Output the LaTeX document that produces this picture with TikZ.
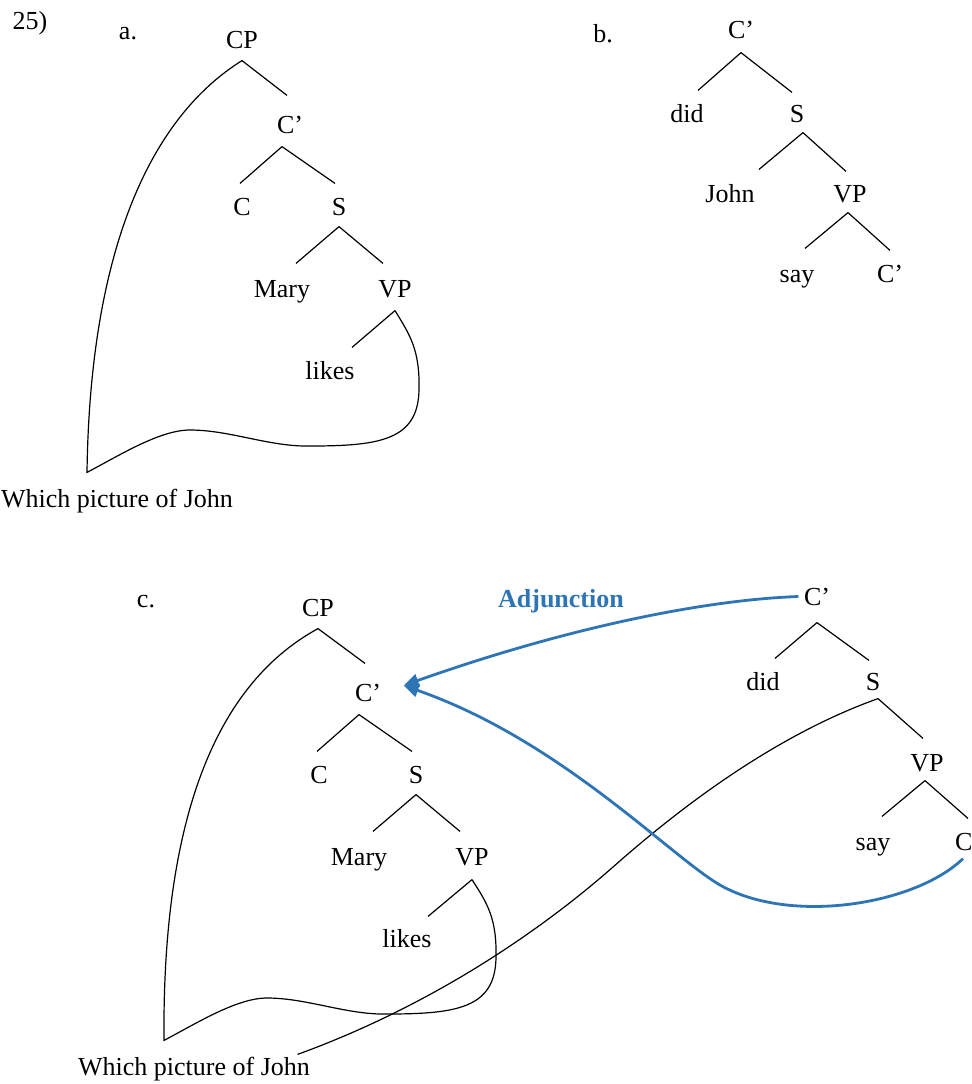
\documentclass[tikz,border=0pt]{standalone}
\usepackage{fontspec}
\setmainfont{Liberation Serif}
\usepackage{tikz}
\usetikzlibrary{arrows.meta}
\definecolor{adjblue}{RGB}{46,117,182}

\begin{document}
\begin{tikzpicture}[x=0.5pt,y=-0.5pt,line width=0.6pt,
  font=\fontsize{13}{15}\selectfont,
  lbl/.style={inner sep=0pt,text height=8.5pt,text depth=0pt,anchor=base},
  adjoin/.style={adjblue,line width=1.4pt,-{Triangle[length=7.5pt,width=6.5pt]}}]
\useasboundingbox (0,0) rectangle (972,1084);

% a. the wh-phrase leaves the VP
\node[lbl] (num) at (30,29) {25)};
\node[lbl] (taga) at (128,39) {a.};
\node[lbl] (CPa) at (242,48) {CP};
\node[lbl] (Cbara) at (290,133) {C’};
\node[lbl] (Ca) at (242,215) {C};
\node[lbl] (Sa) at (339,215) {S};
\node[lbl] (Marya) at (282,297) {Mary};
\node[lbl] (VPa) at (395,297) {VP};
\node[lbl] (likesa) at (330,379) {likes};
\node[lbl] (whicha) at (117,507) {Which picture of John};

\draw ([yshift=-6pt]CPa.south) -- ([xshift=-1.5pt,yshift=10pt]Cbara.north);
\draw ([xshift=-4pt,yshift=-6.5pt]Cbara.south) -- ([xshift=-1pt,yshift=7pt]Ca.north)
      ([xshift=-4pt,yshift=-6.5pt]Cbara.south) -- ([xshift=-2pt,yshift=7pt]Sa.north);
\draw ([yshift=-5.5pt]Sa.south) -- ([xshift=7pt,yshift=8pt]Marya.north)
      ([yshift=-5.5pt]Sa.south) -- ([xshift=-6pt,yshift=8pt]VPa.north);
\draw ([yshift=-6.5pt]VPa.south) -- ([xshift=11pt,yshift=7pt]likesa.north);

\coordinate (foota) at ([xshift=-15pt,yshift=8.5pt]whicha.north);
\draw ([yshift=-6pt]CPa.south) .. controls (150,118) and (90,250) .. (foota)
  .. controls (120,455) and (160,430) .. (190,430)
  .. controls (230,430) and (270,447) .. (310,446)
  .. controls (380,446) and (418,440) .. (419,390)
  .. controls (420,350) and (410,335) .. ([yshift=-6.5pt]VPa.south);

% b. the higher clause
\node[lbl] (tagb) at (603,42) {b.};
\node[lbl] (Cbarb) at (741,38) {C’};
\node[lbl] (didb) at (687,122) {did};
\node[lbl] (Sb) at (797,122) {S};
\node[lbl] (Johnb) at (730,202) {John};
\node[lbl] (VPb) at (850,202) {VP};
\node[lbl] (sayb) at (797,282) {say};
\node[lbl] (Cbarbb) at (890,282) {C’};

\draw ([yshift=-7pt]Cbarb.south) -- ([xshift=5.5pt,yshift=7pt]didb.north)
      ([yshift=-7pt]Cbarb.south) -- ([xshift=-2.5pt,yshift=6pt]Sb.north);
\draw ([xshift=3pt,yshift=-5pt]Sb.south) -- ([xshift=14.5pt,yshift=7.5pt]Johnb.north)
      ([xshift=3pt,yshift=-5pt]Sb.south) -- ([xshift=-2pt,yshift=6.5pt]VPb.north);
\draw ([xshift=-1pt,yshift=-5pt]VPb.south) -- ([xshift=4pt,yshift=8pt]sayb.north)
      ([xshift=-1pt,yshift=-5pt]VPb.south) -- ([yshift=7pt]Cbarbb.north);

% c. the lower tree and the higher clause joined
\node[lbl] (tagc) at (146,607) {c.};
\node[lbl] (CPc) at (318,616) {CP};
\node[lbl] (Cbarc) at (368,701) {C’};
\node[lbl] (Cc) at (319,783) {C};
\node[lbl] (Sc) at (416,783) {S};
\node[lbl] (Maryc) at (359,865) {Mary};
\node[lbl] (VPc) at (472,865) {VP};
\node[lbl] (likesc) at (407,947) {likes};
\node[lbl] (whichc) at (194,1075) {Which picture of John};

\draw ([yshift=-6pt]CPc.south) -- ([xshift=-1.5pt,yshift=10pt]Cbarc.north);
\draw ([xshift=-4.5pt,yshift=-6.5pt]Cbarc.south) -- ([xshift=-1pt,yshift=7pt]Cc.north)
      ([xshift=-4.5pt,yshift=-6.5pt]Cbarc.south) -- ([xshift=-2pt,yshift=7pt]Sc.north);
\draw ([yshift=-5.5pt]Sc.south) -- ([xshift=7pt,yshift=8pt]Maryc.north)
      ([yshift=-5.5pt]Sc.south) -- ([xshift=-6pt,yshift=8pt]VPc.north);
\draw ([yshift=-7pt]VPc.south) -- ([xshift=10.5pt,yshift=6.5pt]likesc.north);

\coordinate (footc) at ([xshift=-15pt,yshift=8.5pt]whichc.north);
\draw ([yshift=-6pt]CPc.south) .. controls (220,682) and (162,810) .. (footc)
  .. controls (197,1023) and (237,998) .. (267,998)
  .. controls (307,998) and (347,1015) .. (387,1014)
  .. controls (457,1014) and (495,1008) .. (496,958)
  .. controls (497,918) and (487,903) .. ([yshift=-7pt]VPc.south);

\node[lbl] (Cbard) at (817,605) {C’};
\node[lbl] (didd) at (763,690) {did};
\node[lbl] (Sd) at (873,690) {S};
\node[lbl] (VPd) at (927,771) {VP};
\node[lbl] (sayd) at (873,850) {say};
\node[lbl] (Cd) at (968,850) {C’};

\draw ([yshift=-8.5pt]Cbard.south) -- ([xshift=6pt,yshift=7pt]didd.north)
      ([yshift=-8.5pt]Cbard.south) -- ([xshift=-2pt,yshift=6pt]Sd.north);
\draw ([xshift=2.5pt,yshift=-4pt]Sd.south) -- ([xshift=-2pt,yshift=7.5pt]VPd.north);
\draw ([xshift=-1pt,yshift=-4.5pt]VPd.south) -- ([xshift=4.5pt,yshift=8pt]sayd.north)
      ([xshift=-1pt,yshift=-4.5pt]VPd.south) -- ([yshift=7pt]Cd.north);

% S of the higher clause hooks onto the wh-phrase
\draw ([xshift=2.5pt,yshift=-4pt]Sd.south) .. controls (790,730) and (700,790) .. (613,867)
  .. controls (530,940) and (420,1010) .. ([xshift=-6.5pt,yshift=1.5pt]whichc.north east);

% adjunction arrows
\node[lbl,text=adjblue] (adj) at (561,607) {\bfseries Adjunction};
\draw[adjoin] ([xshift=-2.5pt]Cbard.west) .. controls (700,600) and (560,630)
  .. ([xshift=11pt,yshift=3.5pt]Cbarc.east);
\draw[adjoin] ([xshift=-2.5pt,yshift=-4pt]Cd.south) .. controls (915,905) and (790,925) .. (720,885)
  .. controls (670,856) and (560,740) .. ([xshift=11pt,yshift=3.5pt]Cbarc.east);
\end{tikzpicture}
\end{document}
